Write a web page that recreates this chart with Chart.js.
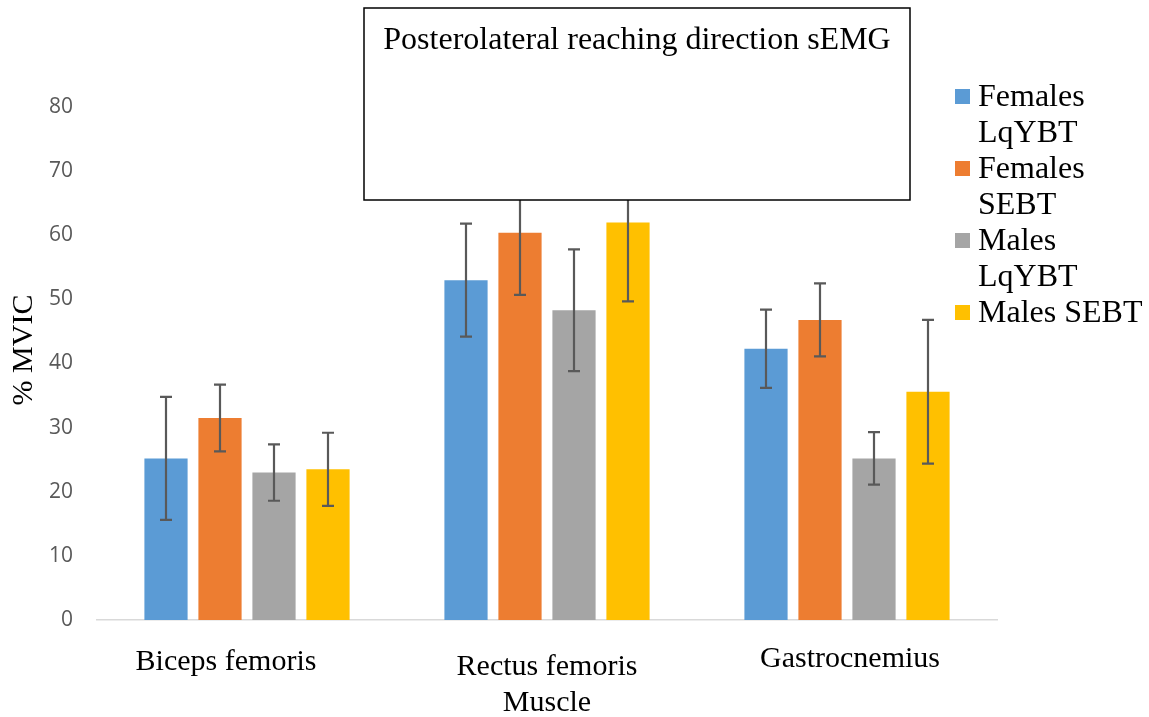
<!DOCTYPE html>
<html>
<head>
<meta charset="utf-8">
<script src="https://cdn.jsdelivr.net/npm/chart.js@4/dist/chart.umd.min.js"></script>
<style>
  html, body { margin: 0; padding: 0; background: #fff; }
  #c { display: block; }
</style>
</head>
<body>
<canvas id="c" width="1149" height="717"></canvas>
<script>
// data
const muscles = ['Biceps femoris', 'Rectus femoris', 'Gastrocnemius'];
const seriesNames = ['Females LqYBT', 'Females SEBT', 'Males LqYBT', 'Males SEBT'];
const seriesColors = ['#5B9BD5', '#ED7D31', '#A5A5A5', '#FFC000'];

const femalesLqYBT = [25.2, 53.0, 42.3];
const femalesSEBT  = [31.5, 60.4, 46.8];
const malesLqYBT   = [23.0, 48.3, 25.2];
const malesSEBT    = [23.5, 62.0, 35.6];

const femalesLqYBTErr = [9.6, 8.8, 6.1];
const femalesSEBTErr  = [5.2, 9.7, 5.7];
const malesLqYBTErr   = [4.4, 9.5, 4.1];
const malesSEBTErr    = [5.7, 12.3, 11.2];

const yTicks = [0, 10, 20, 30, 40, 50, 60, 70, 80];
const chartTitle = 'Posterolateral reaching direction sEMG';
const yTitle = '% MVIC';
const xTitle = 'Muscle';

const values = [femalesLqYBT, femalesSEBT, malesLqYBT, malesSEBT];
const errors = [femalesLqYBTErr, femalesSEBTErr, malesLqYBTErr, malesSEBTErr];

// small per-label nudges, the category labels in the source sit a bit off centre
const xLabelNudge = [[-21, 662], [0, 667], [3, 659]];

const SERIF = '"Liberation Serif", "Times New Roman", serif';

const errorBars = {
    id: 'errorBars',
    afterDatasetsDraw(chart) {
        const ctx = chart.ctx, y = chart.scales.y;
        ctx.save();
        ctx.strokeStyle = '#595959';
        ctx.lineWidth = 2.2;
        chart.data.datasets.forEach((ds, i) => {
            chart.getDatasetMeta(i).data.forEach((bar, j) => {
                const v = ds.data[j], e = errors[i][j];
                const top = y.getPixelForValue(v + e), bot = y.getPixelForValue(v - e);
                ctx.beginPath();
                ctx.moveTo(bar.x, top); ctx.lineTo(bar.x, bot);
                ctx.moveTo(bar.x - 6, top); ctx.lineTo(bar.x + 6, top);
                ctx.moveTo(bar.x - 6, bot); ctx.lineTo(bar.x + 6, bot);
                ctx.stroke();
            });
        });
        ctx.restore();
    }
};

const decorations = {
    id: 'decorations',
    afterDraw(chart) {
        const ctx = chart.ctx, x = chart.scales.x;
        ctx.save();

        // title box sits over the plot, white filled
        ctx.fillStyle = '#fff';
        ctx.fillRect(364, 8, 546, 192);
        ctx.strokeStyle = '#000';
        ctx.lineWidth = 1.5;
        ctx.strokeRect(364, 8, 546, 192);
        ctx.fillStyle = '#000';
        ctx.font = '32px ' + SERIF;
        ctx.textAlign = 'center';
        ctx.textBaseline = 'middle';
        ctx.fillText(chartTitle, 637, 41);

        // category labels
        ctx.font = '30px ' + SERIF;
        muscles.forEach((m, i) => {
            ctx.fillText(m, x.getPixelForValue(i) + xLabelNudge[i][0], xLabelNudge[i][1]);
        });
        ctx.fillText(xTitle, (chart.chartArea.left + chart.chartArea.right) / 2, 703);

        // y title
        ctx.save();
        ctx.translate(24, 350);
        ctx.rotate(-Math.PI / 2);
        ctx.fillText(yTitle, 0, 0);
        ctx.restore();

        // legend, wrapped like the source
        ctx.font = '32px ' + SERIF;
        ctx.textAlign = 'left';
        let ly = 98;
        chart.data.datasets.forEach(ds => {
            const words = ds.label.split(' ');
            const lines = [];
            let cur = '';
            words.forEach(w => {
                const t = cur ? cur + ' ' + w : w;
                if (cur && ctx.measureText(t).width > 170) { lines.push(cur); cur = w; } else cur = t;
            });
            lines.push(cur);
            ctx.fillStyle = ds.backgroundColor;
            ctx.fillRect(955, ly - 9, 15, 15);
            ctx.fillStyle = '#000';
            lines.forEach(l => { ctx.fillText(l, 978, ly); ly += 36; });
        });
        ctx.restore();
    }
};

new Chart(document.getElementById('c'), {
    type: 'bar',
    data: {
        labels: muscles,
        datasets: seriesNames.map((n, i) => ({
            label: n,
            data: values[i],
            backgroundColor: seriesColors[i],
            categoryPercentage: 0.72,
            barPercentage: 0.8
        }))
    },
    options: {
        responsive: false,
        animation: false,
        layout: { padding: { top: 107, right: 152, left: 0, bottom: 0 } },
        plugins: { legend: { display: false }, title: { display: false }, tooltip: { enabled: false } },
        scales: {
            x: {
                grid: { display: false, drawTicks: false },
                border: { color: '#D9D9D9', width: 1.5 },
                ticks: { display: false },
                afterFit(s) { s.height = 97; }
            },
            y: {
                min: 0, max: 80,
                afterBuildTicks(s) { s.ticks = yTicks.map(v => ({ value: v })); },
                grid: { display: false, drawTicks: false },
                border: { display: false },
                ticks: { color: '#595959', padding: 24, font: { family: '"Open Sans", Calibri, sans-serif', size: 21 } },
                afterFit(s) { s.width = 97; }
            }
        }
    },
    plugins: [errorBars, decorations]
});
</script>
</body>
</html>
